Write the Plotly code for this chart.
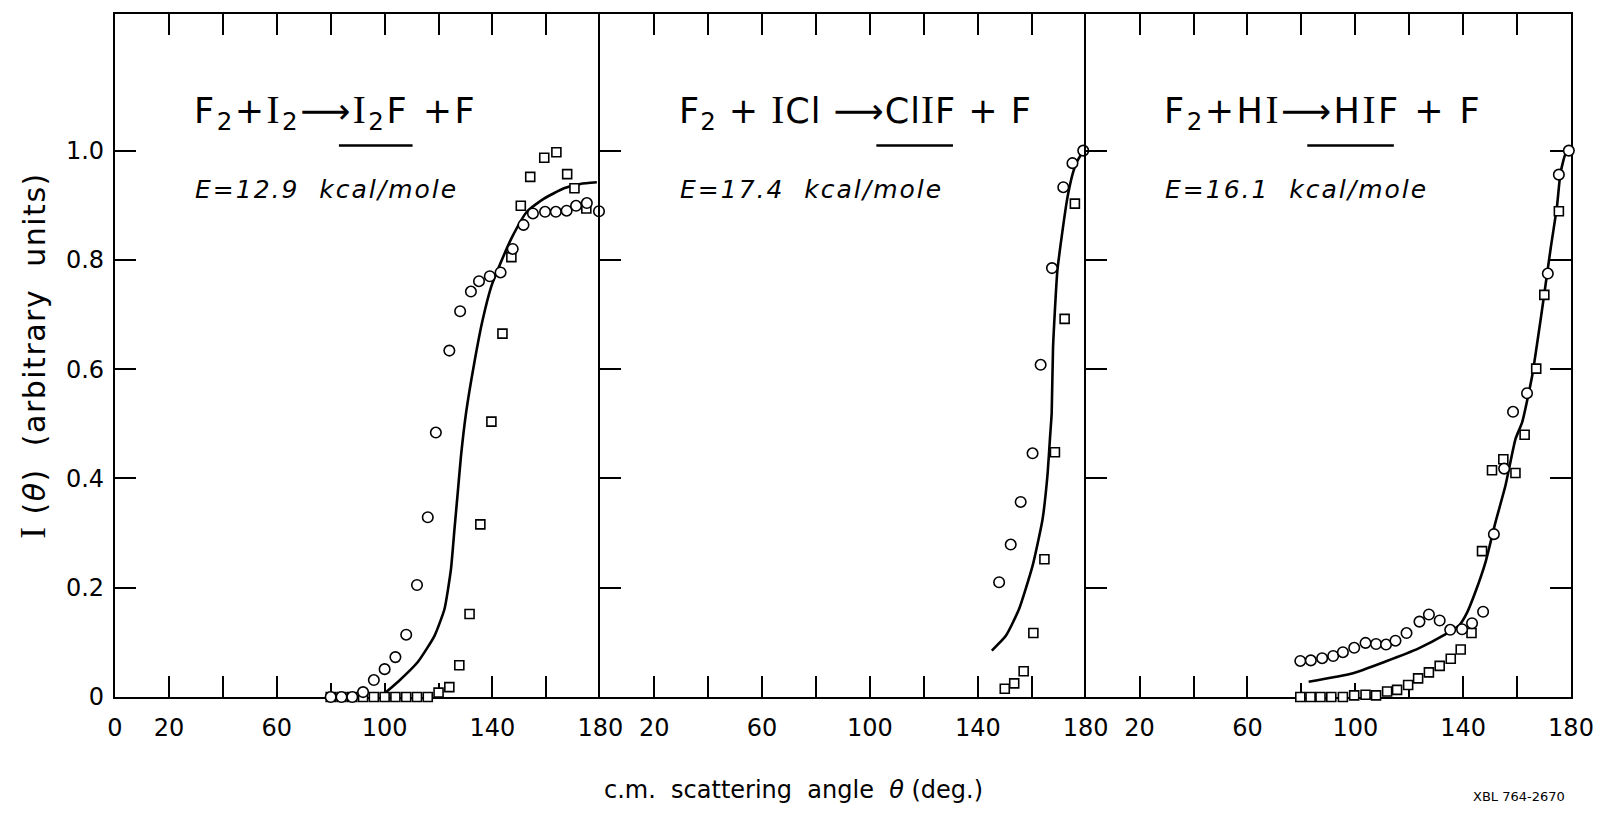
import plotly.graph_objects as go

# ---------------- data ----------------
# Panel 1: F2 + I2 -> I2F + F
p1_circle_x = [80, 84, 88, 92, 96, 100, 104, 108, 112, 116, 119, 124, 128, 132, 135, 139, 143,
               147.5, 151.5, 155, 159.5, 163.5, 167.5, 171, 175, 179.5]
p1_circle_y = [0, 0, 0, 0.009, 0.031, 0.051, 0.073, 0.114, 0.205, 0.329, 0.484, 0.634, 0.706,
               0.742, 0.761, 0.770, 0.777, 0.820, 0.864, 0.885, 0.888, 0.888, 0.890, 0.899, 0.904, 0.889]
p1_square_x = [80, 84, 88, 92, 96, 100, 104, 108, 112, 116, 120, 124, 127.7, 131.5, 135.5, 139.6,
               143.7, 147, 150.5, 154, 159.2, 163.7, 167.7, 170.4, 174.8]
p1_square_y = [0, 0, 0, 0, 0, 0, 0, 0, 0, 0, 0.008, 0.018, 0.058, 0.152, 0.316, 0.504,
               0.665, 0.805, 0.899, 0.952, 0.987, 0.997, 0.957, 0.931, 0.894]
p1_curve_x = [99.8, 105, 112.3, 118.5, 122.2, 124.6, 125.9, 127.1, 128.3, 130.2, 133.2, 136.3,
              139.6, 142.8, 147.4, 152.9, 159.1, 166.5, 172.6, 178.7]
p1_curve_y = [0.006, 0.028, 0.064, 0.112, 0.161, 0.234, 0.307, 0.373, 0.44, 0.52, 0.61, 0.689,
              0.752, 0.792, 0.843, 0.889, 0.912, 0.931, 0.939, 0.942]

# Panel 2: F2 + ICl -> ClIF + F
p2_circle_x = [147.9, 152.2, 155.9, 160.3, 163.3, 167.5, 171.7, 175.1, 179.1]
p2_circle_y = [0.210, 0.279, 0.357, 0.446, 0.608, 0.785, 0.933, 0.977, 1.0]
p2_square_x = [150, 153.5, 157, 160.6, 164.7, 168.6, 172.2, 176]
p2_square_y = [0.015, 0.025, 0.047, 0.117, 0.252, 0.448, 0.692, 0.903]
p2_curve_x = [145.2, 150.4, 155.3, 160.3, 164, 165.8, 166.8, 167.4, 167.9, 169.5, 171.4, 173.2,
              175.1, 176.5, 179.1]
p2_curve_y = [0.085, 0.112, 0.161, 0.240, 0.325, 0.404, 0.476, 0.52, 0.64, 0.78, 0.853, 0.913,
              0.956, 0.977, 1.0]

# Panel 3: F2 + HI -> HIF + F
p3_circle_x = [79.6, 83.5, 87.7, 91.8, 95.4, 99.6, 103.8, 107.7, 111.4, 114.9, 119, 123.8, 127.3,
               131.3, 135.2, 139.6, 143.3, 147.4, 151.4, 155.2, 158.5, 163.7, 171.4, 175.5, 179.2]
p3_circle_y = [0.066, 0.067, 0.071, 0.075, 0.082, 0.090, 0.099, 0.097, 0.096, 0.103, 0.117, 0.138,
               0.151, 0.140, 0.123, 0.124, 0.135, 0.156, 0.298, 0.418, 0.522, 0.556, 0.775, 0.956, 1.0]
p3_square_x = [79.6, 83.4, 87.1, 91.1, 95.4, 99.6, 103.8, 107.7, 111.8, 115.5, 119.6, 123.3, 127.3,
               131.3, 135.4, 139.1, 143.1, 147, 150.7, 154.9, 159.4, 162.8, 167.1, 170.1, 175.5]
p3_square_y = [0, 0, 0, 0, 0, 0.003, 0.004, 0.003, 0.010, 0.013, 0.022, 0.034, 0.045, 0.057,
               0.070, 0.087, 0.117, 0.267, 0.415, 0.435, 0.410, 0.480, 0.601, 0.736, 0.889]
p3_curve_x = [82.7, 98.8, 111.2, 123.5, 133.2, 138.5, 141.5, 144.6, 148.3, 152, 155.7, 159.4, 161.9,
              165.6, 169.3, 172.4, 174.8, 176.1, 177.9, 179.5]
p3_curve_y = [0.028, 0.043, 0.065, 0.089, 0.114, 0.131, 0.155, 0.193, 0.247, 0.320, 0.387, 0.472, 0.503,
              0.588, 0.710, 0.819, 0.898, 0.959, 0.993, 1.0]

x_tick_vals = [0, 20, 40, 60, 80, 100, 120, 140, 160, 180]
x_long_ticks_all = [20, 40, 60, 80, 100, 120, 140, 160]
x_long_ticks_bottom = [20, 40, 60, 140, 160]      # 80-120 are short where the data sit
x_tick_text_first = ["0", "20", "", "60", "", "100", "", "140", "", "180"]
x_tick_text_other = ["", "20", "", "60", "", "100", "", "140", "", "180"]
y_tick_vals = [0, 0.2, 0.4, 0.6, 0.8, 1.0]
y_tick_text = ["0", "0.2", "0.4", "0.6", "0.8", "1.0"]


def serif_i(size):
    return ('<span style="font-family:Liberation Serif, DejaVu Serif, serif;font-size:%dpx">I</span>'
            % size)


SI = serif_i(39)
SUB2 = "<sub>2</sub>"
titles = [
    "F" + SUB2 + "+" + SI + SUB2 + "\u27f6" + SI + SUB2 + "F +F",
    "F" + SUB2 + " + " + SI + "Cl \u27f6Cl" + SI + "F + F",
    "F" + SUB2 + "+H" + SI + "\u27f6H" + SI + "F + F",
]
title_spacing = [2.5, 1.0, 2.5]
energies = ["E=12.9  kcal/mole", "E=17.4  kcal/mole", "E=16.1  kcal/mole"]

panels = [
    (p1_circle_x, p1_circle_y, p1_square_x, p1_square_y, p1_curve_x, p1_curve_y),
    (p2_circle_x, p2_circle_y, p2_square_x, p2_square_y, p2_curve_x, p2_curve_y),
    (p3_circle_x, p3_circle_y, p3_square_x, p3_square_y, p3_curve_x, p3_curve_y),
]

FONT = "DejaVu Sans"
INK = "black"
W, H = 1606, 813
ML, MR, MT, MB = 115, 28, 12, 116
PW = W - ML - MR
PH = H - MT - MB

fig = go.Figure()
for i, (cx, cy, sx, sy, lx, ly) in enumerate(panels):
    xa = "x" if i == 0 else f"x{i+1}"
    ya = "y" if i == 0 else f"y{i+1}"
    fig.add_trace(go.Scatter(x=lx, y=ly, mode="lines", xaxis=xa, yaxis=ya,
                             line=dict(color=INK, width=2.6, shape="spline", smoothing=0.5),
                             hoverinfo="skip", showlegend=False))
    fig.add_trace(go.Scatter(x=sx, y=sy, mode="markers", xaxis=xa, yaxis=ya, cliponaxis=False,
                             marker=dict(symbol="square", size=9, color="white",
                                         line=dict(color=INK, width=1.6)),
                             showlegend=False))
    fig.add_trace(go.Scatter(x=cx, y=cy, mode="markers", xaxis=xa, yaxis=ya, cliponaxis=False,
                             marker=dict(symbol="circle", size=10.5, color="white",
                                         line=dict(color=INK, width=1.6)),
                             showlegend=False))

# empty traces that carry the extra tick-only axes of panels 1 and 3
for xa, ya in [("x4", "y"), ("x5", "y"), ("x6", "y3"), ("x7", "y3")]:
    fig.add_trace(go.Scatter(x=[None], y=[None], mode="lines", xaxis=xa, yaxis=ya,
                             hoverinfo="skip", showlegend=False))

layout = dict(
    width=W, height=H,
    margin=dict(l=ML, r=MR, t=MT, b=MB),
    paper_bgcolor="white", plot_bgcolor="white",
    font=dict(family=FONT, color=INK, size=24),
    showlegend=False,
)
TICK = dict(ticks="inside", tickwidth=2, tickcolor=INK, showgrid=False, zeroline=False,
            layer="below traces")
for i in range(3):
    sfx = "" if i == 0 else str(i + 1)
    has_short = i in (0, 2)
    layout["xaxis" + sfx] = dict(
        domain=[i / 3, (i + 1) / 3], range=[0, 180], anchor="y" + sfx,
        tickmode="array", tickvals=x_tick_vals,
        ticktext=x_tick_text_first if i == 0 else x_tick_text_other,
        ticklen=(14 if has_short else 21),
        showline=True, linewidth=2.2, linecolor=INK,
        mirror=(False if has_short else "ticks"),
        tickfont=dict(size=24, family=FONT, color=INK), ticklabelstandoff=8, **TICK,
    )
    layout["yaxis" + sfx] = dict(
        domain=[0, 1], range=[0, 1.25], anchor="x" + sfx,
        tickmode="array", tickvals=y_tick_vals, ticktext=y_tick_text,
        showticklabels=(i == 0), ticklen=21,
        showline=True, linewidth=2.2, linecolor=INK,
        mirror=("ticks" if i == 2 else False),
        tickfont=dict(size=24, family=FONT, color=INK), ticklabelstandoff=4, **TICK,
    )
for name, base, ya, side, vals, line in [("xaxis4", "x", "y", "bottom", x_long_ticks_bottom, False),
                                         ("xaxis5", "x", "y", "top", x_long_ticks_all, True),
                                         ("xaxis6", "x3", "y3", "bottom", x_long_ticks_bottom, False),
                                         ("xaxis7", "x3", "y3", "top", x_long_ticks_all, True)]:
    layout[name] = dict(overlaying=base, anchor=ya, side=side, range=[0, 180],
                        tickmode="array", tickvals=vals, showticklabels=False, ticklen=21,
                        showline=line, linewidth=2.2, linecolor=INK, **TICK)

layout["yaxis"]["title"] = dict(
    text='<span style="letter-spacing:1.5px">' + serif_i(35) + " (<i>\u03b8</i>)  (arbitrary  units)</span>",
    font=dict(size=30, family=FONT, color=INK), standoff=11)

annotations = []
for i in range(3):
    sfx = "" if i == 0 else str(i + 1)
    annotations.append(dict(text='<span style="letter-spacing:%.1fpx">' % title_spacing[i] + titles[i] + "</span>",
                            xref="x" + sfx + " domain", yref="y" + sfx,
                            x=0.158, y=1.07, xanchor="left", yanchor="middle", showarrow=False,
                            font=dict(size=35, family=FONT, color=INK)))
    annotations.append(dict(text='<span style="letter-spacing:2px"><i>' + energies[i] + "</i></span>",
                            xref="x" + sfx + " domain",
                            yref="y" + sfx, x=0.16, y=0.928, xanchor="left", yanchor="middle",
                            showarrow=False, font=dict(size=25, family=FONT, color=INK)))
annotations.append(dict(text="c.m.  scattering  angle  <i>\u03b8</i> (deg.)", xref="paper",
                        yref="paper", x=(797 - ML) / PW, y=(MT + PH - 790) / PH,
                        xanchor="center", yanchor="middle", showarrow=False,
                        font=dict(size=24, family=FONT, color=INK)))
annotations.append(dict(text="XBL 764-2670", xref="paper", yref="paper",
                        x=(1526 - ML) / PW, y=(MT + PH - 797) / PH,
                        xanchor="center", yanchor="middle", showarrow=False,
                        font=dict(size=13, family=FONT, color=INK)))
layout["annotations"] = annotations


def px_x(p):
    return (p - ML) / PW


def px_y(p):
    return (MT + PH - p) / PH


# underlines beneath the product molecule in each reaction title
underlines = [(340, 414), (880, 957), (1313, 1400)]
layout["shapes"] = [dict(type="line", xref="paper", yref="paper", x0=px_x(a), x1=px_x(b),
                         y0=px_y(144), y1=px_y(144), line=dict(color=INK, width=2.5))
                    for a, b in underlines]

fig.update_layout(**layout)
fig.write_html("out.html")
